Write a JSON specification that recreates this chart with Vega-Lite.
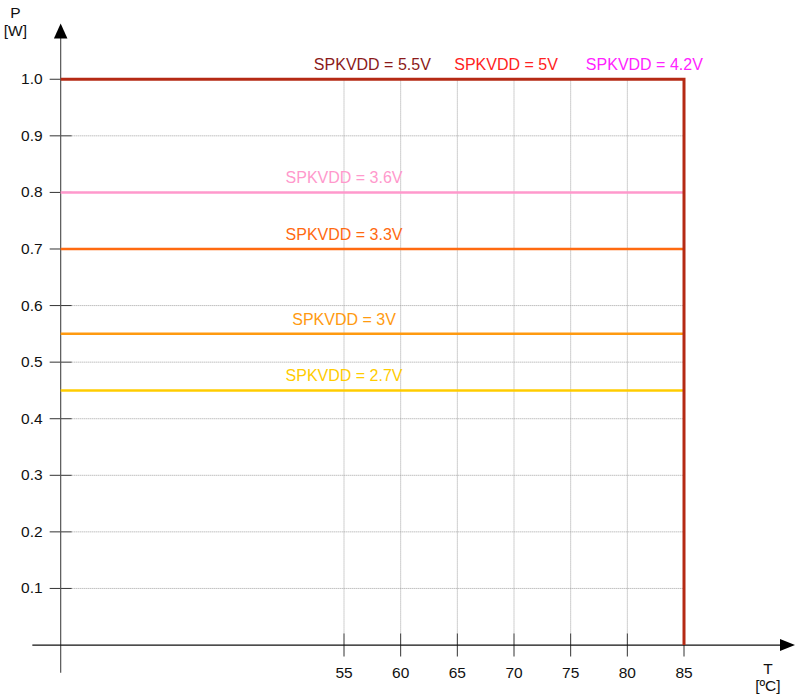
{
  "$schema": "https://vega.github.io/schema/vega-lite/v6.json",
  "width": 796,
  "height": 699,
  "padding": 0,
  "autosize": {"type": "fit", "contains": "padding"},
  "config": {"view": {"stroke": null}, "text": {"font": "Liberation Sans"}},
  "datasets": {
    "curves": [
      {"v": "SPKVDD = 5.5V", "p": 1.0, "lx": 57.5},
      {"v": "SPKVDD = 5V", "p": 1.0, "lx": 69.3},
      {"v": "SPKVDD = 4.2V", "p": 1.0, "lx": 81.5},
      {"v": "SPKVDD = 3.6V", "p": 0.8, "lx": 55.0},
      {"v": "SPKVDD = 3.3V", "p": 0.7, "lx": 55.0},
      {"v": "SPKVDD = 3V", "p": 0.55, "lx": 55.0},
      {"v": "SPKVDD = 2.7V", "p": 0.45, "lx": 55.0}
    ],
    "limit": [
      {"i": 0, "t": 30, "p": 1.0},
      {"i": 1, "t": 85, "p": 1.0},
      {"i": 2, "t": 85, "p": 0.0}
    ],
    "yticks": [
      {"p": 0.1}, {"p": 0.2}, {"p": 0.3}, {"p": 0.4}, {"p": 0.5},
      {"p": 0.6}, {"p": 0.7}, {"p": 0.8}, {"p": 0.9}, {"p": 1.0}
    ],
    "xticks": [
      {"t": 55}, {"t": 60}, {"t": 65}, {"t": 70}, {"t": 75}, {"t": 80}, {"t": 85}
    ],
    "titles": [
      {"s": "P", "t": 26.0, "p": 1.108},
      {"s": "[W]", "t": 26.0, "p": 1.077},
      {"s": "T", "t": 92.4, "p": -0.052},
      {"s": "[ºC]", "t": 92.4, "p": -0.082}
    ]
  },
  "layer": [
    {
      "data": {"name": "yticks"},
      "transform": [{"filter": "datum.p < 1"}],
      "mark": {"type": "rule", "color": "#a0a0a0", "strokeWidth": 1, "strokeDash": [1, 1]},
      "encoding": {
        "x": {"datum": 30.97, "type": "quantitative", "scale": {"domain": [24.647, 94.882], "nice": false, "zero": false}, "axis": null},
        "x2": {"datum": 85},
        "y": {"field": "p", "type": "quantitative", "scale": {"domain": [-0.0954, 1.1401], "nice": false, "zero": false}, "axis": null}
      }
    },
    {
      "data": {"name": "xticks"},
      "transform": [{"filter": "datum.t < 85"}],
      "mark": {"type": "rule", "color": "#a0a0a0", "strokeWidth": 1, "strokeDash": [1, 1]},
      "encoding": {
        "x": {"field": "t", "type": "quantitative", "scale": {"domain": [24.647, 94.882], "nice": false, "zero": false}, "axis": null},
        "y": {"datum": 0.0203, "type": "quantitative", "scale": {"domain": [-0.0954, 1.1401], "nice": false, "zero": false}, "axis": null},
        "y2": {"datum": 1.0}
      }
    },
    {
      "data": {"name": "yticks"},
      "mark": {"type": "rule", "color": "#333333", "strokeWidth": 1},
      "encoding": {
        "x": {"datum": 29.03, "type": "quantitative", "scale": {"domain": [24.647, 94.882], "nice": false, "zero": false}, "axis": null},
        "x2": {"datum": 30.97},
        "y": {"field": "p", "type": "quantitative", "scale": {"domain": [-0.0954, 1.1401], "nice": false, "zero": false}, "axis": null}
      }
    },
    {
      "data": {"name": "xticks"},
      "mark": {"type": "rule", "color": "#333333", "strokeWidth": 1},
      "encoding": {
        "x": {"field": "t", "type": "quantitative", "scale": {"domain": [24.647, 94.882], "nice": false, "zero": false}, "axis": null},
        "y": {"datum": -0.0203, "type": "quantitative", "scale": {"domain": [-0.0954, 1.1401], "nice": false, "zero": false}, "axis": null},
        "y2": {"datum": 0.0203}
      }
    },
    {
      "data": {"values": [{"a": 1}]},
      "mark": {"type": "rule", "color": "#555555", "strokeWidth": 1.2},
      "encoding": {
        "x": {"datum": 30, "type": "quantitative", "scale": {"domain": [24.647, 94.882], "nice": false, "zero": false}, "axis": null},
        "y": {"datum": -0.049, "type": "quantitative", "scale": {"domain": [-0.0954, 1.1401], "nice": false, "zero": false}, "axis": null},
        "y2": {"datum": 1.08}
      }
    },
    {
      "data": {"values": [{"a": 1}]},
      "mark": {"type": "rule", "color": "#111111", "strokeWidth": 1.2},
      "encoding": {
        "x": {"datum": 27.5, "type": "quantitative", "scale": {"domain": [24.647, 94.882], "nice": false, "zero": false}, "axis": null},
        "x2": {"datum": 94.2},
        "y": {"datum": 0, "type": "quantitative", "scale": {"domain": [-0.0954, 1.1401], "nice": false, "zero": false}, "axis": null}
      }
    },
    {
      "data": {"values": [{"a": 1}]},
      "mark": {"type": "point", "filled": true, "color": "#000000", "opacity": 1, "size": 225, "shape": "M0,-1L0.9,1L-0.9,1Z"},
      "encoding": {
        "x": {"datum": 30, "type": "quantitative", "scale": {"domain": [24.647, 94.882], "nice": false, "zero": false}, "axis": null},
        "y": {"datum": 1.0855, "type": "quantitative", "scale": {"domain": [-0.0954, 1.1401], "nice": false, "zero": false}, "axis": null}
      }
    },
    {
      "data": {"values": [{"a": 1}]},
      "mark": {"type": "point", "filled": true, "color": "#000000", "opacity": 1, "size": 225, "shape": "M1,0L-1,0.8L-1,-0.8Z"},
      "encoding": {
        "x": {"datum": 94.13, "type": "quantitative", "scale": {"domain": [24.647, 94.882], "nice": false, "zero": false}, "axis": null},
        "y": {"datum": 0, "type": "quantitative", "scale": {"domain": [-0.0954, 1.1401], "nice": false, "zero": false}, "axis": null}
      }
    },
    {
      "data": {"name": "curves"},
      "transform": [{"filter": "datum.p < 1"}],
      "mark": {"type": "rule", "strokeWidth": 2.5},
      "encoding": {
        "x": {"datum": 30, "type": "quantitative", "scale": {"domain": [24.647, 94.882], "nice": false, "zero": false}, "axis": null},
        "x2": {"datum": 85},
        "y": {"field": "p", "type": "quantitative", "scale": {"domain": [-0.0954, 1.1401], "nice": false, "zero": false}, "axis": null},
        "color": {"field": "v", "type": "nominal", "legend": null, "scale": {
          "domain": ["SPKVDD = 5.5V", "SPKVDD = 5V", "SPKVDD = 4.2V", "SPKVDD = 3.6V", "SPKVDD = 3.3V", "SPKVDD = 3V", "SPKVDD = 2.7V"],
          "range": ["#8b1a1a", "#ff2222", "#ff22ff", "#ff99cc", "#ff6a10", "#ff9a10", "#ffcc00"]}}
      }
    },
    {
      "data": {"name": "limit"},
      "mark": {"type": "line", "color": "#b52a14", "strokeWidth": 3, "strokeJoin": "miter"},
      "encoding": {
        "x": {"field": "t", "type": "quantitative", "scale": {"domain": [24.647, 94.882], "nice": false, "zero": false}, "axis": null},
        "y": {"field": "p", "type": "quantitative", "scale": {"domain": [-0.0954, 1.1401], "nice": false, "zero": false}, "axis": null},
        "order": {"field": "i", "type": "quantitative"}
      }
    },
    {
      "data": {"name": "curves"},
      "mark": {"type": "text", "fontSize": 16, "align": "center", "baseline": "alphabetic", "dy": -9},
      "encoding": {
        "x": {"field": "lx", "type": "quantitative", "scale": {"domain": [24.647, 94.882], "nice": false, "zero": false}, "axis": null},
        "y": {"field": "p", "type": "quantitative", "scale": {"domain": [-0.0954, 1.1401], "nice": false, "zero": false}, "axis": null},
        "text": {"field": "v"},
        "color": {"field": "v", "type": "nominal", "legend": null, "scale": {
          "domain": ["SPKVDD = 5.5V", "SPKVDD = 5V", "SPKVDD = 4.2V", "SPKVDD = 3.6V", "SPKVDD = 3.3V", "SPKVDD = 3V", "SPKVDD = 2.7V"],
          "range": ["#8b1a1a", "#ff2222", "#ff22ff", "#ff99cc", "#ff6a10", "#ff9a10", "#ffcc00"]}}
      }
    },
    {
      "data": {"name": "yticks"},
      "mark": {"type": "text", "fontSize": 15.5, "align": "right", "baseline": "middle", "color": "#111111"},
      "encoding": {
        "x": {"datum": 28.41, "type": "quantitative", "scale": {"domain": [24.647, 94.882], "nice": false, "zero": false}, "axis": null},
        "y": {"field": "p", "type": "quantitative", "scale": {"domain": [-0.0954, 1.1401], "nice": false, "zero": false}, "axis": null},
        "text": {"field": "p", "type": "quantitative", "format": ".1f"}
      }
    },
    {
      "data": {"name": "xticks"},
      "mark": {"type": "text", "fontSize": 15.5, "align": "center", "baseline": "alphabetic", "color": "#111111"},
      "encoding": {
        "x": {"field": "t", "type": "quantitative", "scale": {"domain": [24.647, 94.882], "nice": false, "zero": false}, "axis": null},
        "y": {"datum": -0.0578, "type": "quantitative", "scale": {"domain": [-0.0954, 1.1401], "nice": false, "zero": false}, "axis": null},
        "text": {"field": "t", "type": "quantitative"}
      }
    },
    {
      "data": {"name": "titles"},
      "mark": {"type": "text", "fontSize": 15.5, "align": "center", "baseline": "alphabetic", "color": "#111111"},
      "encoding": {
        "x": {"field": "t", "type": "quantitative", "scale": {"domain": [24.647, 94.882], "nice": false, "zero": false}, "axis": null},
        "y": {"field": "p", "type": "quantitative", "scale": {"domain": [-0.0954, 1.1401], "nice": false, "zero": false}, "axis": null},
        "text": {"field": "s"}
      }
    }
  ]
}
